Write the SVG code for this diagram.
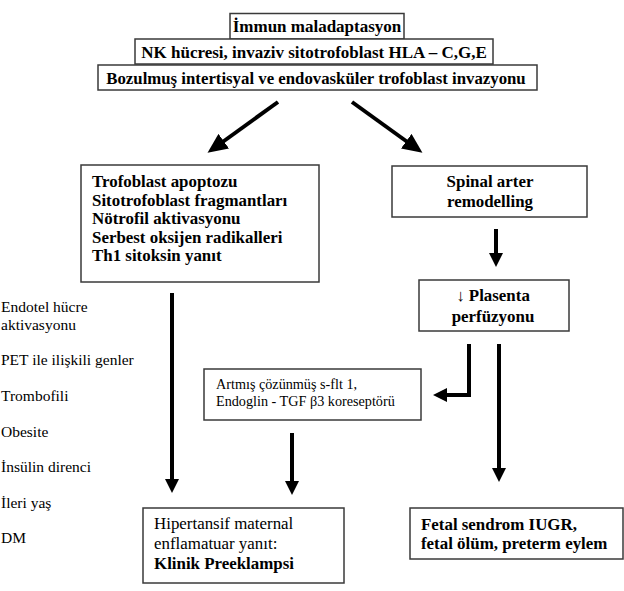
<svg xmlns="http://www.w3.org/2000/svg" width="624" height="591" viewBox="0 0 624 591">
<style>
.box{fill:#fff;stroke:#3a3a3a;stroke-width:1.5}
.b{font-family:"Liberation Serif","Times New Roman",serif;font-weight:bold;fill:#000}
.r{font-family:"Liberation Serif","Times New Roman",serif;fill:#000}
.c{stroke:#000;stroke-width:4;fill:none}
</style>
<defs>
<marker id="ah" markerUnits="userSpaceOnUse" markerWidth="14" markerHeight="14" refX="3" refY="7" orient="auto">
<path d="M0,0 L14,7 L0,14 z" fill="#000"/>
</marker>
<marker id="ahl" markerUnits="userSpaceOnUse" markerWidth="20" markerHeight="18" refX="4" refY="9" orient="auto">
<path d="M0,0 L20,9 L0,18 z" fill="#000"/>
</marker>
</defs>
<rect width="624" height="591" fill="#fff"/>
<g id="n1"><rect class="box" x="230" y="13.5" width="174" height="25.5"/><text class="b" x="317" y="32" font-size="17" text-anchor="middle">İmmun maladaptasyon</text></g>
<g id="n2"><rect class="box" x="135" y="39" width="358" height="25"/><text class="b" x="314" y="57.5" font-size="17" text-anchor="middle">NK hücresi, invaziv sitotrofoblast HLA – C,G,E</text></g>
<g id="n3"><rect class="box" x="98" y="65" width="439" height="25"/><text class="b" x="316" y="83.5" font-size="16.8" text-anchor="middle">Bozulmuş intertisyal ve endovasküler trofoblast invazyonu</text></g>
<g id="n4"><rect class="box" x="81" y="165" width="238" height="117"/>
<text class="b" font-size="16.9"><tspan x="92" y="187">Trofoblast apoptozu</tspan><tspan x="92" y="205.5">Sitotrofoblast fragmantları</tspan><tspan x="92" y="224">Nötrofil aktivasyonu</tspan><tspan x="92" y="242.5">Serbest oksijen radikalleri</tspan><tspan x="92" y="261">Th1 sitoksin yanıt</tspan></text></g>
<g id="n5"><rect class="box" x="392" y="166" width="195" height="51"/>
<text class="b" font-size="16.9" text-anchor="middle"><tspan x="490" y="187">Spinal arter</tspan><tspan x="490" y="207">remodelling</tspan></text></g>
<g id="n6"><rect class="box" x="419" y="280" width="150" height="51"/>
<text class="b" font-size="16.9" text-anchor="middle"><tspan x="493" y="301"><tspan font-weight="normal">↓</tspan> Plasenta</tspan><tspan x="493" y="322">perfüzyonu</tspan></text></g>
<g id="n7"><rect class="box" x="204" y="369" width="217" height="51"/>
<text class="r" font-size="14.2"><tspan x="216" y="389">Artmış çözünmüş s-flt 1,</tspan><tspan x="216" y="405.5">Endoglin - TGF β3 koreseptörü</tspan></text></g>
<g id="n8"><rect class="box" x="143" y="508" width="201" height="75"/>
<text font-size="16.9"><tspan class="r" x="154" y="529">Hipertansif maternal</tspan><tspan class="r" x="154" y="549">enflamatuar yanıt:</tspan><tspan class="b" x="154" y="568.5">Klinik Preeklampsi</tspan></text></g>
<g id="n9"><rect class="box" x="410" y="508" width="213" height="51"/>
<text class="b" font-size="16.9"><tspan x="421" y="530">Fetal sendrom IUGR,</tspan><tspan x="421" y="549">fetal ölüm, preterm eylem</tspan></text></g>
<g id="factors" class="r" font-size="15.5">
<text x="1" y="312">Endotel hücre</text>
<text x="1" y="330">aktivasyonu</text>
<text x="1" y="365">PET ile ilişkili genler</text>
<text x="1" y="401">Trombofili</text>
<text x="1" y="437">Obesite</text>
<text x="1" y="472">İnsülin direnci</text>
<text x="1" y="508">İleri yaş</text>
<text x="1" y="543">DM</text>
</g>
<g id="connectors">
<line class="c" x1="278" y1="102" x2="220.5" y2="143.5" marker-end="url(#ahl)"/>
<line class="c" x1="352" y1="102" x2="409.5" y2="143.5" marker-end="url(#ahl)"/>
<line class="c" x1="496" y1="229" x2="496" y2="256" marker-end="url(#ah)"/>
<line class="c" x1="172" y1="293" x2="172" y2="482" marker-end="url(#ah)"/>
<line class="c" x1="292" y1="433" x2="292" y2="484" marker-end="url(#ah)"/>
<line class="c" x1="499" y1="344" x2="499" y2="471" marker-end="url(#ah)"/>
<polyline class="c" points="469,344 469,395 444,395" marker-end="url(#ah)"/>
</g>
</svg>
